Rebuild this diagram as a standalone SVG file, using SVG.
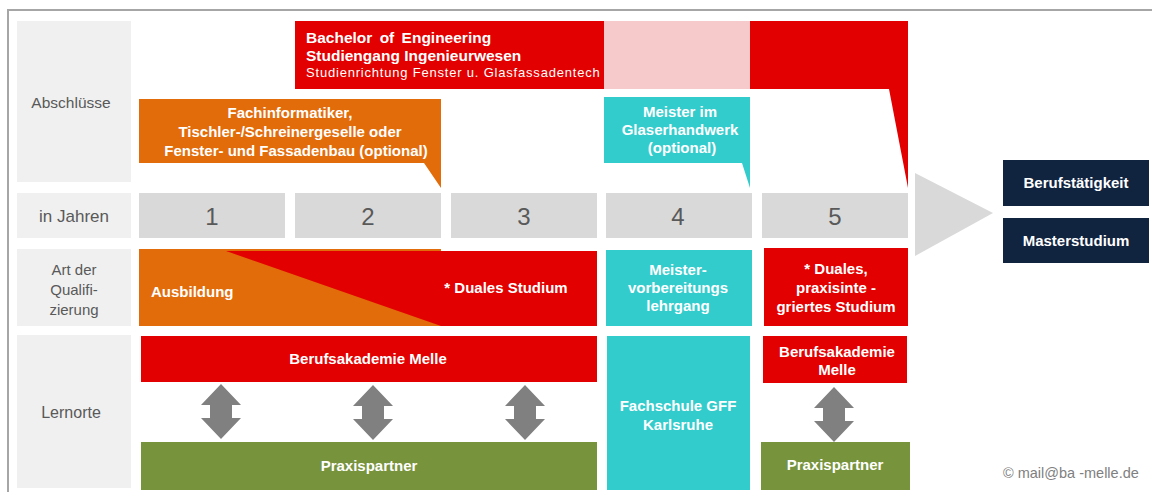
<svg xmlns="http://www.w3.org/2000/svg" width="1152" height="493" viewBox="0 0 1152 493">
<defs>
<style>
.lbl{fill:#f0f0f0}
.lt{font-family:"Liberation Sans",Arial,sans-serif;fill:#595959;text-anchor:middle}
.yr{fill:#d9d9d9}
.yt{font-family:"Liberation Sans",Arial,sans-serif;fill:#595959;font-size:24px;text-anchor:middle}
.wb{font-family:"Liberation Sans",Arial,sans-serif;fill:#ffffff;font-weight:bold;font-size:15px;text-anchor:middle}
.red{fill:#e30000}
.org{fill:#e36c0a}
.cyn{fill:#33cccc}
.grn{fill:#77933c}
.navy{fill:#10233f}
.arr{fill:#808080}
</style>
<path id="dbl" d="M0,0 L20,21 L11,21 L11,34 L20,34 L0,55 L-20,34 L-11,34 L-11,21 L-20,21 Z"/>
</defs>
<rect width="1152" height="493" fill="#ffffff"/>
<path d="M8,492 L8,10 L1152,10" fill="none" stroke="#a6a6a6" stroke-width="2"/>

<g id="row-labels">
<rect class="lbl" x="17" y="21" width="114" height="161"/>
<text class="lt" x="71" y="108" font-size="15.5">Abschlüsse</text>
<rect class="lbl" x="17" y="193" width="114" height="45"/>
<text class="lt" x="74" y="222" font-size="17">in Jahren</text>
<rect class="lbl" x="17" y="249" width="114" height="77"/>
<text class="lt" x="74" y="275" font-size="15">Art der</text>
<text class="lt" x="74" y="295" font-size="15">Qualifi-</text>
<text class="lt" x="74" y="315" font-size="15">zierung</text>
<rect class="lbl" x="17" y="335" width="114" height="153"/>
<text class="lt" x="71" y="418" font-size="16">Lernorte</text>
</g>

<g id="bachelor">
<rect class="red" x="295" y="21" width="309" height="68"/>
<rect fill="#f6caca" x="604" y="21" width="146" height="68"/>
<polygon class="red" points="750,21 908,21 908,188 889,89 750,89"/>
<text font-family="Liberation Sans,Arial,sans-serif" fill="#ffffff" font-weight="bold" font-size="15.5" word-spacing="3" x="306" y="43">Bachelor of Engineering</text>
<text font-family="Liberation Sans,Arial,sans-serif" fill="#ffffff" font-weight="bold" font-size="15.5" x="306" y="61">Studiengang Ingenieurwesen</text>
<text font-family="Liberation Sans,Arial,sans-serif" fill="#ffffff" font-size="13" letter-spacing="0.8" x="306" y="77">Studienrichtung Fenster  u. Glasfassadentech</text>
</g>

<g id="fachinformatiker">
<polygon class="org" points="139,99 441,99 441,188 424,163 139,163"/>
<text class="wb" x="290" y="118">Fachinformatiker,</text>
<text class="wb" x="290" y="137">Tischler-/Schreinergeselle oder</text>
<text class="wb" x="296" y="156">Fenster- und Fassadenbau (optional)</text>
</g>

<g id="meister-glaser">
<polygon class="cyn" points="604,97 750,97 750,188 742,163 604,163"/>
<text class="wb" x="680" y="117">Meister im</text>
<text class="wb" x="680" y="135">Glaserhandwerk</text>
<text class="wb" x="682" y="153">(optional)</text>
</g>

<g id="years">
<rect class="yr" x="139" y="193" width="146" height="45"/>
<text class="yt" x="212" y="225">1</text>
<rect class="yr" x="295" y="193" width="146" height="45"/>
<text class="yt" x="368" y="225">2</text>
<rect class="yr" x="451" y="193" width="146" height="45"/>
<text class="yt" x="524" y="225">3</text>
<rect class="yr" x="606" y="193" width="146" height="45"/>
<text class="yt" x="678" y="225">4</text>
<rect class="yr" x="762" y="193" width="146" height="45"/>
<text class="yt" x="835" y="225">5</text>
<polygon class="yr" points="915,173 993,213 915,256"/>
</g>

<g id="ausbildung-duales">
<rect class="org" x="139" y="249" width="302" height="77"/>
<polygon class="red" points="226,251 597,251 597,326 441,326"/>
<text class="wb" x="151" y="297" style="text-anchor:start">Ausbildung</text>
<text class="wb" x="506" y="293">* Duales Studium</text>
</g>

<g id="meistervorbereitung">
<rect class="cyn" x="606" y="250" width="146" height="76"/>
<text class="wb" x="678" y="275">Meister-</text>
<text class="wb" x="678" y="293">vorbereitungs</text>
<text class="wb" x="678" y="311">lehrgang</text>
</g>

<g id="duales-praxis">
<rect class="red" x="764" y="248" width="144" height="78"/>
<text class="wb" x="836" y="274">* Duales,</text>
<text class="wb" x="836" y="293">praxisinte -</text>
<text class="wb" x="836" y="312">griertes Studium</text>
</g>

<g id="ba-melle-1">
<rect class="red" x="141" y="336" width="456" height="46"/>
<text class="wb" x="368" y="364">Berufsakademie Melle</text>
</g>

<g id="praxis-1">
<rect class="grn" x="141" y="442" width="456" height="48"/>
<text class="wb" x="369" y="471">Praxispartner</text>
</g>

<g id="fachschule">
<rect class="cyn" x="607" y="336" width="143" height="154"/>
<text class="wb" x="678" y="411">Fachschule GFF</text>
<text class="wb" x="678" y="430">Karlsruhe</text>
</g>

<g id="ba-melle-2">
<rect class="red" x="763" y="336" width="144" height="47"/>
<text class="wb" x="837" y="357">Berufsakademie</text>
<text class="wb" x="837" y="375">Melle</text>
</g>

<g id="praxis-2">
<rect class="grn" x="761" y="442" width="149" height="48"/>
<text class="wb" x="835" y="470">Praxispartner</text>
</g>

<g id="berufstaetigkeit">
<rect class="navy" x="1003" y="160" width="146" height="46"/>
<text class="wb" x="1076" y="188">Berufstätigkeit</text>
</g>

<g id="masterstudium">
<rect class="navy" x="1003" y="218" width="146" height="45"/>
<text class="wb" x="1076" y="246">Masterstudium</text>
</g>

<g id="connectors">
<use href="#dbl" class="arr" x="221" y="384"/>
<use href="#dbl" class="arr" x="373" y="385"/>
<use href="#dbl" class="arr" x="525" y="385"/>
<use href="#dbl" class="arr" x="834" y="387"/>
</g>

<text font-family="Liberation Sans,Arial,sans-serif" fill="#808080" font-size="14.5" x="1003" y="478">© mail@ba -melle.de</text>
</svg>
